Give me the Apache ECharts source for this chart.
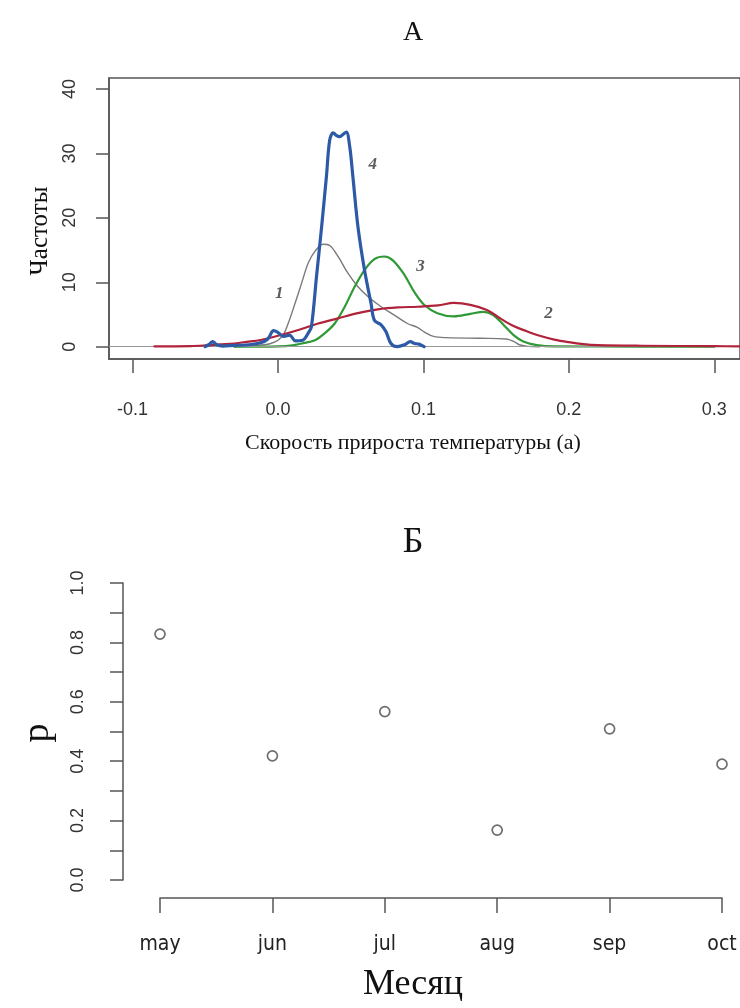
<!DOCTYPE html>
<html>
<head>
<meta charset="utf-8">
<script src="https://cdn.jsdelivr.net/npm/echarts@6/dist/echarts.min.js"></script>
<style>html,body{margin:0;padding:0;background:#fff}#c{width:740px;height:1008px}</style>
</head>
<body>
<div id="c"></div>
<script>
// ---- Panel A: density curves (x = rate, y = frequency) ----
const curve1 = [[-0.03,0],[-0.02,0.1],[-0.01,0.3],[-0.005,0.5],[0.0,1.0],[0.004,2.0],[0.007,3.6],[0.0117,6.7],[0.0163,9.9],[0.0208,13.0],[0.0254,14.8],[0.031,15.9],[0.0356,15.7],[0.0413,14.0],[0.0481,11.4],[0.055,9.3],[0.0618,7.8],[0.0709,6.2],[0.080,4.9],[0.089,3.6],[0.0959,3.0],[0.1005,2.3],[0.107,1.6],[0.116,1.4],[0.139,1.3],[0.157,1.2],[0.163,0.7],[0.166,0.3],[0.172,0.05],[0.18,0]];
const curve2 = [[-0.085,0.05],[-0.06,0.1],[-0.05,0.2],[-0.04,0.35],[-0.03,0.5],[-0.02,0.8],[-0.013,1.0],[0.0,1.7],[0.014,2.6],[0.0276,3.6],[0.0413,4.4],[0.055,5.2],[0.0686,5.8],[0.0823,6.1],[0.096,6.2],[0.11,6.4],[0.121,6.8],[0.1323,6.5],[0.1437,5.7],[0.1528,4.4],[0.162,3.2],[0.171,2.4],[0.18,1.7],[0.19,1.1],[0.2,0.7],[0.21,0.4],[0.22,0.25],[0.25,0.15],[0.3,0.08],[0.32,0.05]];
const curve3 = [[-0.03,0],[0.0,0.05],[0.01,0.2],[0.0163,0.5],[0.0254,1.0],[0.0322,2.1],[0.039,3.6],[0.0459,6.2],[0.0527,9.3],[0.0595,11.9],[0.0663,13.6],[0.0732,14.0],[0.079,13.4],[0.0868,11.2],[0.0937,8.5],[0.1005,6.5],[0.1096,5.2],[0.121,4.7],[0.1323,5.1],[0.1414,5.4],[0.148,4.9],[0.155,3.4],[0.162,1.8],[0.1687,0.8],[0.178,0.25],[0.19,0.05],[0.25,0.02],[0.30,0]];
const curve4 = [[-0.050,0],[-0.047,0.4],[-0.045,0.8],[-0.042,0.3],[-0.038,0.1],[-0.03,0.2],[-0.02,0.3],[-0.012,0.6],[-0.007,1.2],[-0.003,2.5],[0.0,2.2],[0.004,1.6],[0.008,1.8],[0.012,0.9],[0.017,1.0],[0.021,2.2],[0.023,3.1],[0.0265,10.9],[0.030,18.6],[0.0333,26.4],[0.0356,32.1],[0.038,33.2],[0.040,32.8],[0.0425,32.6],[0.045,33.0],[0.047,33.3],[0.0493,31.1],[0.0515,26.4],[0.055,18.6],[0.0595,11.9],[0.064,6.7],[0.0663,4.1],[0.0709,3.4],[0.0743,2.3],[0.0777,0.5],[0.082,0.0],[0.087,0.3],[0.091,0.8],[0.094,0.5],[0.097,0.4],[0.1005,0]];
const curveLabels = ['1','2','3','4'];
const curveLabelPos = [[0.0008,8.3],[0.186,5.2],[0.098,12.4],[0.0652,28.2]];
const xTicksA = [-0.1,0.0,0.1,0.2,0.3];
const yTicksA = [0,10,20,30,40];

// ---- Panel Б: p by month ----
const months = ['may','jun','jul','aug','sep','oct'];
const pValues = [0.828,0.418,0.567,0.168,0.509,0.39];
const yTicksB = [0,0.1,0.2,0.3,0.4,0.5,0.6,0.7,0.8,0.9,1.0];
const yLabelsB = [0,0.2,0.4,0.6,0.8,1.0];

const serif = "'Liberation Serif','Times New Roman',serif";
const sans = "'Liberation Sans',Arial,sans-serif";
const narrow = "'Liberation Sans Narrow','DejaVu Sans Condensed','Liberation Sans',sans-serif";
const axisCol = '#555';

const chart = echarts.init(document.getElementById('c'), null, {renderer:'canvas'});

function lineSeries(data, color, width, z){
  return {type:'line', xAxisIndex:0, yAxisIndex:0, data:data, showSymbol:false, smooth:0.35,
    lineStyle:{color:color, width:width, join:'round', cap:'round'}, z:z, silent:true, animation:false, clip:true};
}

chart.setOption({
  animation:false,
  grid:[
    {left:109, top:78, width:636, height:281, show:true, borderColor:axisCol, borderWidth:1.5, containLabel:false},
    {left:160, top:583, width:562, height:297, containLabel:false}
  ],
  xAxis:[
    {type:'value', gridIndex:0, min:-0.1162, max:0.3177,
      axisLine:{show:true, onZero:false, lineStyle:{color:axisCol, width:1.5}},
      axisTick:{show:true, length:14, customValues:xTicksA, lineStyle:{color:axisCol, width:1.5}},
      axisLabel:{customValues:xTicksA, margin:42, fontSize:18, fontFamily:sans, color:'#333',
        formatter:v=>Number(v).toFixed(1)},
      splitLine:{show:false}},
    {type:'category', gridIndex:1, data:months, boundaryGap:false, offset:18,
      axisLine:{show:true, onZero:false, lineStyle:{color:axisCol, width:1.5}},
      axisTick:{show:true, length:15, alignWithLabel:true, lineStyle:{color:axisCol, width:1.5}},
      axisLabel:{margin:36, fontSize:21, fontFamily:narrow, color:'#222'},
      splitLine:{show:false}}
  ],
  yAxis:[
    {type:'value', gridIndex:0, min:-1.91, max:41.7,
      axisLine:{show:true, onZero:false, lineStyle:{color:axisCol, width:1.5}},
      axisTick:{show:true, length:13, customValues:yTicksA, lineStyle:{color:axisCol, width:1.5}},
      axisLabel:{customValues:yTicksA, rotate:90, margin:30, fontSize:18, fontFamily:sans, color:'#333'},
      splitLine:{show:false}},
    {type:'value', gridIndex:1, min:0, max:1, offset:37,
      axisLine:{show:true, onZero:false, lineStyle:{color:axisCol, width:1.5}},
      axisTick:{show:true, length:13, customValues:yTicksB, lineStyle:{color:axisCol, width:1.5}},
      axisLabel:{customValues:yLabelsB, rotate:90, margin:36, fontSize:18, fontFamily:sans, color:'#333',
        formatter:v=>Number(v).toFixed(1)},
      splitLine:{show:false}}
  ],
  series:[
    Object.assign(lineSeries(curve1,'#7a7a7a',1.4,3), {
      markLine:{silent:true, symbol:['none','none'], label:{show:false},
        lineStyle:{color:'#999', width:1, type:'solid'}, data:[{yAxis:0}]}}),
    lineSeries(curve3,'#2f9a35',2.2,4),
    lineSeries(curve2,'#b0233a',2.2,5),
    lineSeries(curve4,'#2d5aa6',3.2,6),
    {type:'scatter', xAxisIndex:0, yAxisIndex:0, symbolSize:0, silent:true, z:10,
      data:curveLabelPos.map((p,i)=>({value:p, name:curveLabels[i]})),
      label:{show:true, position:'inside', formatter:'{b}', fontSize:17, fontStyle:'italic', fontWeight:'bold',
        fontFamily:serif, color:'#333'}},
    {type:'scatter', xAxisIndex:1, yAxisIndex:1, clip:false, symbol:'circle', symbolSize:10,
      data:months.map((m,i)=>[m,pValues[i]]),
      itemStyle:{color:'#ffffff', borderColor:'#4a4a4a', borderWidth:1.7}, z:5}
  ],
  graphic:[
    {type:'text', x:413, y:33, style:{text:'A', font:'28px '+serif, fill:'#111', align:'center', verticalAlign:'middle'}},
    {type:'text', x:413, y:443, style:{text:'Скорость прироста температуры (а)', font:'22px '+serif, fill:'#111', align:'center', verticalAlign:'middle'}},
    {type:'text', x:40, y:231, rotation:Math.PI/2, style:{text:'Частоты', font:'25px '+serif, fill:'#111', align:'center', verticalAlign:'middle'}},
    {type:'text', x:413, y:543, style:{text:'Б', font:'36px '+serif, fill:'#111', align:'center', verticalAlign:'middle'}},
    {type:'text', x:38, y:733, rotation:Math.PI/2, style:{text:'p', font:'38px '+serif, fill:'#111', align:'center', verticalAlign:'middle'}},
    {type:'text', x:413, y:985, style:{text:'Месяц', font:'36px '+serif, fill:'#111', align:'center', verticalAlign:'middle'}}
  ]
});
</script>
</body>
</html>
